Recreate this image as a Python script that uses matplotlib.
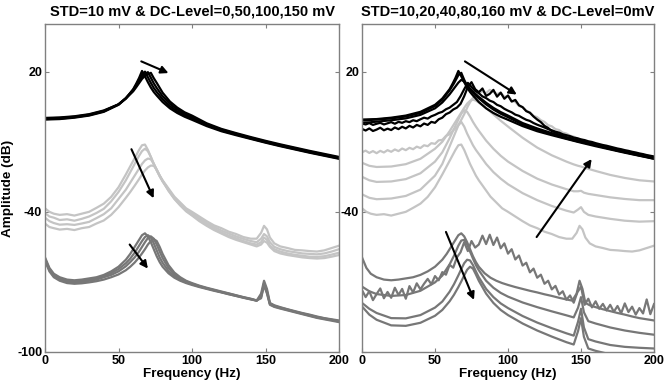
import matplotlib
matplotlib.use("Agg")
import matplotlib.pyplot as plt

plt.rcParams['font.family'] = ['Liberation Sans', 'DejaVu Sans']
plt.rcParams['font.weight'] = 'bold'

# Data
# left panel: STD=10 mV, DC-level 0,50,100,150 mV ; right panel: STD 10..160 mV, DC 0
freq_l = [0, 3, 6, 10, 15, 20, 25, 30, 35, 40, 45, 50, 55, 58, 61, 64, 66, 68, 70, 72,
          74, 76, 78, 80, 84, 88, 92, 96, 100, 105, 110, 115, 120, 125, 130, 135, 140,
          144, 147, 149, 151, 153, 156, 160, 165, 170, 175, 180, 185, 190, 195, 200]

freq_black_l = [0, 10, 20, 30, 40, 50, 55, 60, 62, 64, 66, 68, 70, 72, 74, 76, 80, 85,
                90, 95, 100, 110, 120, 130, 140, 150, 160, 170, 180, 190, 200]

black_l = [
    [-0.5, -0.3, 0.3, 1.2, 2.8, 5.8, 8.5, 12.5, 14.8, 17.3, 20.3, 18, 15.5, 13.2, 11.3, 9.8,
     7, 4.3, 2.3, 0.7, -0.6, -3.3, -5.5, -7.2, -8.8, -10.4, -11.9, -13.3, -14.7, -16, -17.3],
    [-0.3, -0.1, 0.5, 1.4, 3, 6, 8.7, 12.3, 14.3, 16.5, 18.7, 20, 17.6, 15.2, 13, 11.3,
     8.2, 5.2, 3, 1.3, 0, -2.9, -5.2, -6.9, -8.6, -10.2, -11.7, -13.1, -14.5, -15.8, -17.1],
    [0, 0.2, 0.7, 1.6, 3.2, 6, 8.6, 12, 13.8, 15.8, 17.8, 19, 19.8, 17.4, 15, 13,
     9.5, 6.2, 3.8, 2, 0.6, -2.5, -4.8, -6.6, -8.3, -9.9, -11.4, -12.8, -14.2, -15.5, -16.8],
    [0.2, 0.4, 0.9, 1.8, 3.4, 6, 8.5, 11.6, 13.3, 15.1, 16.9, 18.2, 18.9, 19.5, 17.2, 15.2,
     11, 7.2, 4.6, 2.6, 1.2, -2.1, -4.5, -6.3, -8, -9.6, -11.1, -12.5, -13.9, -15.2, -16.5],
]

light_l = [
    [-38.5, -40, -40.8, -41.3, -41, -41.6, -40.8, -40, -38.3, -36.5, -33.6, -29.5, -24, -20.5,
     -17, -13.5, -11.5, -11.2, -13.5, -16.5, -19.5, -22, -24.5, -26.5, -30, -33.5, -36, -38.5,
     -40, -42, -44, -45.8, -47, -48.5, -49.5, -50.8, -51.5, -51.5, -49, -46, -47.5, -51, -53.5,
     -54.8, -55.5, -56.3, -56.5, -56.8, -57, -56.5, -55.5, -54.5],
    [-40.5, -42, -42.5, -43.5, -43.2, -43.8, -43, -42, -40.5, -38.7, -35.5, -31.5, -26.5, -23,
     -19.5, -16, -14, -13, -14, -16.5, -19.5, -22.3, -24.8, -27, -30.5, -34, -36.5, -39,
     -40.8, -42.8, -44.8, -46.5, -48, -49.3, -50.5, -51.6, -52.5, -53, -51.5, -49.5, -50.5, -53,
     -55, -56, -56.8, -57.3, -57.8, -58, -58.2, -57.8, -57, -56],
    [-42.5, -44, -44.8, -45.5, -45.3, -45.6, -45, -44.3, -42.7, -41, -38.5, -34.5, -30.5, -27.5,
     -24.5, -21.5, -19.5, -18, -17.2, -17.5, -19.5, -22, -24.5, -26.8, -30.8, -34.3, -37, -39.5,
     -41.3, -43.5, -45.5, -47.3, -48.8, -50.2, -51.3, -52.5, -53.5, -54, -53, -51, -52, -54.5,
     -56, -57, -57.8, -58.4, -58.8, -59.2, -59.3, -59, -58.3, -57.5],
    [-45, -46.5, -47, -47.6, -47.3, -47.8, -47, -46.5, -45, -43.7, -41.3, -38, -34, -31.5,
     -28.8, -26, -24, -22.3, -21, -20.2, -20.3, -22, -24.5, -26.8, -31, -34.5, -37.3, -39.8,
     -41.6, -44, -46, -47.8, -49.3, -50.8, -52, -53, -54, -54.8, -54, -52.5, -53.2, -55,
     -56.8, -57.8, -58.5, -59, -59.5, -59.8, -60, -59.8, -59.2, -58.5],
]

mid_l = [
    [-59.5, -64, -66.5, -68, -69, -69.3, -69, -68.5, -68, -67, -65.5, -63.5, -60.5, -58,
     -55, -52, -50, -49.2, -50.5, -53, -56, -59, -61.5, -63.5, -66.3, -68.2, -69.5, -70.5,
     -71.3, -72.2, -73, -73.8, -74.5, -75.3, -76, -76.8, -77.5, -78, -75, -69.5, -73, -79,
     -80, -80.8, -81.7, -82.5, -83.3, -84, -84.8, -85.5, -86, -86.5],
    [-60, -64.5, -67, -68.5, -69.5, -69.8, -69.5, -69, -68.5, -67.5, -66.2, -64.5, -62, -60,
     -57.5, -54.5, -52.5, -50.8, -50, -51, -53.5, -56.5, -59.5, -61.8, -65.3, -67.5, -69, -70.2,
     -71, -72, -72.8, -73.6, -74.4, -75.2, -76, -76.7, -77.4, -78, -76, -70.5, -74, -79.2,
     -80.2, -81, -81.8, -82.7, -83.5, -84.2, -85, -85.6, -86.2, -86.8],
    [-60.5, -65, -67.5, -69, -70, -70.3, -70, -69.5, -69, -68, -67, -65.5, -63.3, -61.5,
     -59.5, -57, -55, -53, -51.2, -50.5, -51.5, -54, -57, -59.8, -64, -66.7, -68.5, -69.8,
     -70.8, -71.8, -72.7, -73.5, -74.3, -75, -75.8, -76.6, -77.3, -78, -76.5, -71, -74.5, -79.5,
     -80.5, -81.2, -82, -82.8, -83.6, -84.4, -85.2, -85.8, -86.3, -87],
    [-61, -65.5, -68, -69.5, -70.5, -70.8, -70.6, -70.2, -69.7, -69, -68, -66.8, -65, -63.5,
     -61.7, -59.5, -57.8, -56, -54, -52.5, -51.7, -52.5, -55, -58, -62.8, -66, -68, -69.5,
     -70.5, -71.6, -72.5, -73.3, -74.1, -74.9, -75.7, -76.5, -77.2, -77.9, -77, -71.5, -75, -79.8,
     -80.7, -81.4, -82.2, -83, -83.8, -84.6, -85.4, -86, -86.6, -87.2],
]

# right panel: STD=10 curve is the same run as DC=0 on the left (index 0)
freq_r = [0, 5, 10, 20, 30, 40, 50, 55, 60, 63, 66, 68, 70, 72, 74, 76, 78, 80, 85, 90,
          95, 100, 110, 120, 130, 140, 145, 148, 150, 152, 155, 160, 170, 180, 190, 200]

black_r = [
    [-0.8, -0.7, -0.5, 0, 0.8, 2.3, 5.3, 8, 12, 15, 18.5, 19.5, 16.5, 14, 12.3, 11, 9.7, 8.6,
     6, 3.8, 2, 0.5, -2.6, -4.9, -6.8, -8.6, -9.4, -9.9, -10.1, -10.4, -10.8, -11.5, -13, -14.4,
     -15.7, -17],
    [-1.8, -1.7, -1.4, -0.8, 0, 1.5, 4.3, 6.8, 10.3, 12.8, 15.3, 16.5, 15.8, 14.2, 12.8, 11.5,
     10.3, 9.2, 6.7, 4.5, 2.7, 1.2, -2, -4.3, -6.3, -8.1, -8.9, -9.4, -9.6, -9.9, -10.3, -11.1,
     -12.6, -14, -15.3, -16.6],
]

light_r = [
    [-32.5, -34, -34.6, -34.3, -33.2, -30.5, -24.5, -19.5, -12, -7.5, -3, -1.5, -3.5, -6.5, -9,
     -11.5, -13.5, -15.2, -19.5, -23, -25.8, -28.2, -32, -35, -37.5, -39.5, -40.3, -39, -38, -40,
     -41.3, -42, -43, -43.8, -44.2, -44],
    [-25, -26.5, -27.2, -27, -26, -23.5, -18.5, -14.5, -8.5, -4.5, -0.5, 2, 3.5, 2.8, 0.8, -1.5,
     -3.5, -5.3, -9.5, -13, -16, -18.5, -22.5, -25.8, -28.3, -30.3, -31.2, -31.2, -31, -31.8,
     -32.3, -32.8, -33.8, -34.5, -35, -35],
    [-19, -20.3, -20.8, -20.6, -19.6, -17.3, -13, -10, -5.5, -2.5, 0.5, 2.5, 4.5, 6.3, 7.5, 8,
     7.6, 6.8, 4.5, 1.7, -1, -3.5, -8.3, -12.5, -15.8, -18.5, -19.7, -20.3, -20.6, -21, -21.6,
     -22.5, -24.2, -25.5, -26.5, -27],
]

mid_r = [
    [-72, -74, -75.2, -76, -75.6, -73.8, -70.2, -67.3, -62.5, -58.8, -54.5, -52.3, -52, -54, -57,
     -60, -62.8, -65, -69.5, -72.5, -74.7, -76.3, -78.8, -80.8, -82.6, -84.3, -85.2, -81, -76.5,
     -83, -86.8, -87.8, -89.5, -90.8, -91.8, -92.6],
    [-79, -81.5, -83.3, -85.5, -85.6, -84.2, -81, -78.4, -74.2, -71, -67.2, -64.5, -62, -60.5,
     -60.8, -62.8, -65.5, -68, -73, -76.5, -79.2, -81.2, -84.6, -87.4, -89.8, -92, -93, -87,
     -81.5, -89.5, -94.5, -95.5, -97, -97.8, -98.2, -98.5],
    [-80.5, -84, -86.2, -88.6, -88.8, -87.5, -84.5, -82, -78.3, -75.5, -72.2, -69.8, -67.2,
     -64.8, -63.5, -64.3, -66.8, -69.5, -75, -79, -82, -84.2, -87.8, -90.8, -93.4, -95.8, -96.8,
     -91, -85.5, -93.5, -98.5, -99.5, -101, -102, -102.5, -103],
]

# the two highest STD levels are noisy, sampled every 2.5 Hz
freq_n = [i * 2.5 for i in range(81)]

black_noisy = [
    [-2.2, -2.6, -2, -2.8, -2.3, -1.9, -2.6, -2.1, -1.6, -2.3, -1.5, -1.9, -1.2, -1.6, -0.8,
     -1.2, -0.4, 0.3, -0.1, 0.9, 1.5, 2.3, 2.8, 3.9, 4.6, 5.8, 7, 9.5, 12.5, 15.2, 13.5, 11.8,
     10.8, 9.4, 8.7, 7.6, 7, 5.8, 5.2, 4.1, 3.3, 2.6, 1.6, 1.1, 0.2, -0.6, -1.1, -2, -2.7, -3.3,
     -3.9, -4.6, -5.1, -5.7, -6.1, -6.8, -7.2, -7.6, -8.2, -8.5, -9, -9.3, -9.8, -10.1, -10.6,
     -11, -11.4, -11.7, -12.1, -12.5, -12.9, -13.2, -13.6, -13.9, -14.3, -14.6, -15, -15.3,
     -15.7, -16, -16.3],
    [-4.5, -5.2, -4.3, -5.4, -4.8, -4, -5.1, -4.4, -5, -3.9, -4.6, -3.6, -4.3, -3.2, -3.9,
     -2.8, -3.4, -2.2, -2.8, -1.5, -1.9, -0.4, 0.3, 1.8, 2.5, 3.8, 4.6, 6.2, 9.5, 13.5, 15.5,
     12.5, 11.2, 12.8, 9.6, 10.5, 12.2, 9.3, 11, 8.4, 9.8, 7.2, 7.9, 5.6, 4.8, 3.1, 2.4, 0.8,
     -0.5, -1.6, -3.2, -4.1, -5.5, -6, -7, -7.3, -8.1, -8.4, -9.1, -9.3, -9.9, -10.3, -10.7,
     -11.2, -11.5, -12, -12.3, -12.7, -13.1, -13.4, -13.9, -14.1, -14.5, -14.8, -15.2, -15.5,
     -15.9, -16.2, -16.5, -16.9, -17.2],
]

light_noisy = [
    -14.5, -13.8, -14.8, -14, -14.9, -13.9, -14.6, -13.6, -14.3, -13.3, -14, -12.9, -13.6,
    -12.6, -13.2, -12.1, -12.7, -11.5, -11.9, -10.6, -10.9, -9.4, -9.2, -7.5, -6.8, -5.1,
    -3.8, -1.2, 1.8, 5.2, 8, 9.8, 10.9, 11.6, 10.8, 12.2, 11.3, 10.4, 11.1, 9.2, 9.6, 7.5,
    7.1, 5.3, 4.8, 3.3, 2.6, 1.1, 0.5, -0.8, -1.5, -2.9, -3.4, -4.6, -5, -6.1, -6.5, -7.4,
    -7.8, -8.6, -9, -9.7, -10.1, -10.6, -11, -11.5, -11.9, -12.4, -12.8, -13.2, -13.6, -14,
    -14.4, -14.8, -15.2, -15.5, -15.9, -16.2, -16.6, -16.9, -17.3]

mid_noisy = [
    -73.5, -76.5, -74, -77.8, -75.2, -72.8, -77, -74.3, -76.8, -72.5, -75.6, -73, -77.2,
    -71.8, -74.5, -70.6, -73.2, -70.8, -68.7, -71, -67.5, -69.3, -65.8, -66.9, -62.7, -63.9,
    -59.5, -57.3, -53, -56.8, -52.5, -55.3, -54, -50.2, -53.8, -49.8, -54.2, -51, -55.6,
    -53.5, -57.9, -56, -60.4, -58.7, -63, -61.8, -65.9, -64.3, -68.2, -66.9, -70.8, -69.5,
    -73.2, -71.7, -75.4, -74, -77.6, -75.8, -78.9, -74.5, -72, -79.8, -77.2, -80.9, -78.3,
    -81.5, -79.4, -82.2, -79.8, -82.8, -80.3, -83.4, -79.2, -82.9, -80.6, -84, -81.2, -83.5,
    -77.5, -83.8, -79.5]

# arrows: (start, end) in data units
arrows_l = [((65.5, 24.4), (84, 19.4)), ((58.8, -13.2), (73.9, -34.2)), ((57.6, -54), (70, -64.3))]
arrows_r = [((70.5, 24.4), (106, 10.2)), ((119.6, -50.8), (157.3, -17.4)), ((57.5, -48.6), (76.7, -77.7))]

c_black = '#000000'
c_light = '#c4c4c4'
c_mid = '#777777'
lw = 1.6


def style_axes(ax, title, ylabels):
    ax.set_xlim(0, 200)
    ax.set_ylim(-100, 40.4)
    ax.set_xticks([0, 50, 100, 150, 200])
    ax.set_yticks([20, -40, -100])
    ax.set_yticklabels(ylabels)
    ax.tick_params(direction='in', length=3, color='#808080', top=True, right=True,
                   labelsize=9, pad=2)
    for s in ax.spines.values():
        s.set_color('#808080')
        s.set_linewidth(1)
    ax.set_xlabel('Frequency (Hz)', fontsize=9.7, fontweight='bold', labelpad=1)
    ax.set_title(title, fontsize=10.5, fontweight='bold', pad=6)


def arrow(ax, start, end):
    ax.annotate('', xy=end, xytext=start,
                arrowprops=dict(arrowstyle='-|>', color='k', lw=1.5, mutation_scale=11,
                                shrinkA=0, shrinkB=0))


fig = plt.figure(figsize=(6.64, 3.90), dpi=100)
ax1 = fig.add_axes([45 / 664, 38 / 390, 294 / 664, 328 / 390])
ax2 = fig.add_axes([362 / 664, 38 / 390, 292 / 664, 328 / 390])

# left
for y in black_l:
    ax1.plot(freq_black_l, y, color=c_black, lw=lw)
for y in light_l:
    ax1.plot(freq_l, y, color=c_light, lw=lw)
for y in mid_l:
    ax1.plot(freq_l, y, color=c_mid, lw=lw)
for a in arrows_l:
    arrow(ax1, *a)
style_axes(ax1, 'STD=10 mV & DC-Level=0,50,100,150 mV', ['20', '-40', '-100'])
ax1.set_ylabel('Amplitude (dB)', fontsize=9.7, fontweight='bold', labelpad=2)

# right
ax2.plot(freq_l, light_l[0], color=c_light, lw=lw)
for y in light_r:
    ax2.plot(freq_r, y, color=c_light, lw=lw)
ax2.plot(freq_n, light_noisy, color=c_light, lw=lw)
ax2.plot(freq_black_l, black_l[0], color=c_black, lw=lw)
for y in black_r:
    ax2.plot(freq_r, y, color=c_black, lw=lw)
for y in black_noisy:
    ax2.plot(freq_n, y, color=c_black, lw=lw)
ax2.plot(freq_l, mid_l[0], color=c_mid, lw=lw)
for y in mid_r:
    ax2.plot(freq_r, y, color=c_mid, lw=lw)
ax2.plot(freq_n, mid_noisy, color=c_mid, lw=lw)
for a in arrows_r:
    arrow(ax2, *a)
style_axes(ax2, 'STD=10,20,40,80,160 mV & DC-Level=0mV', ['20', '-40', ''])

fig.savefig('out.png', dpi=100)
